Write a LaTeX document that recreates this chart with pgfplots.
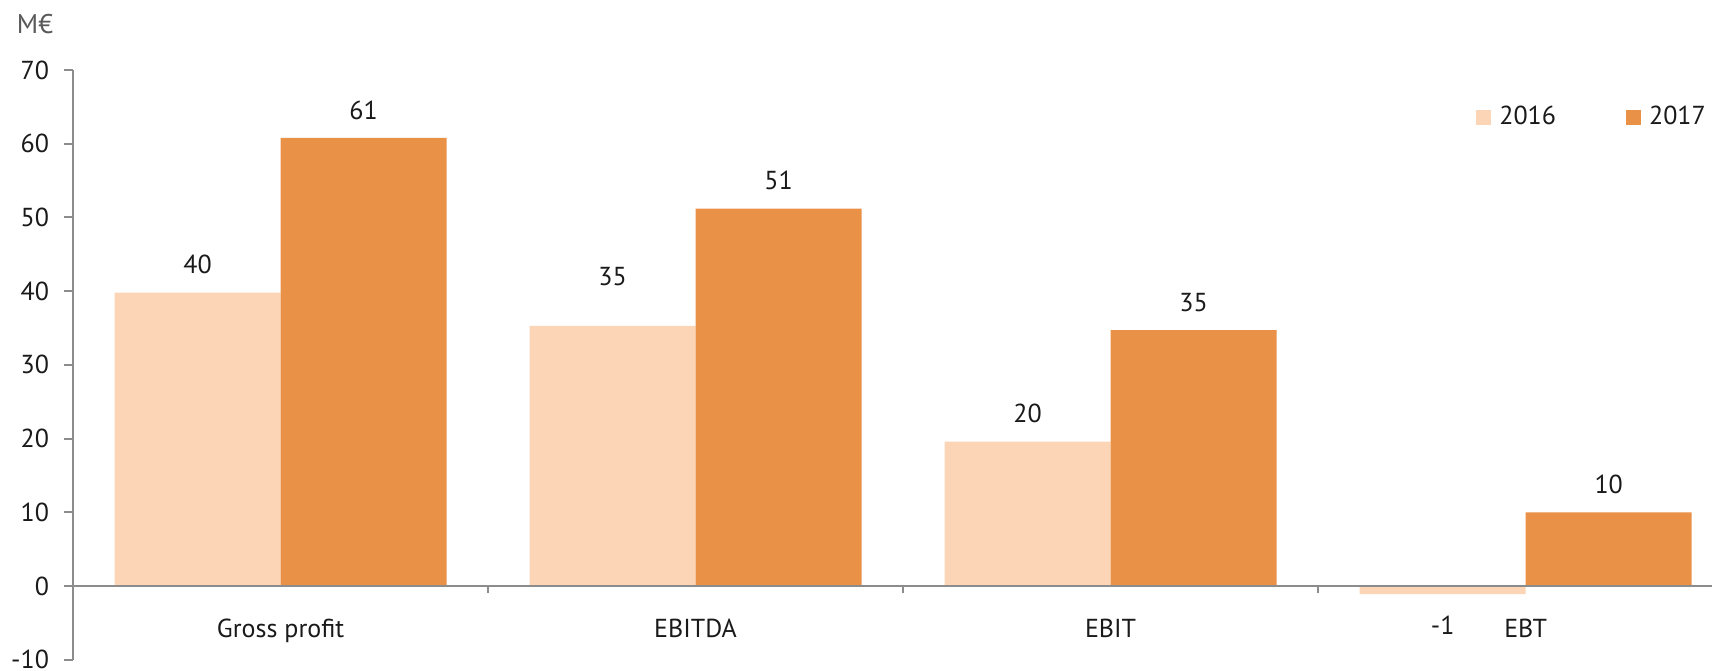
\documentclass[border=0pt]{standalone}
\usepackage{pgfplots}
\pgfplotsset{compat=1.18}
\usepackage{pgfplotstable}
\usepackage{fontspec}
\setmainfont{PT Sans}
\definecolor{light}{HTML}{FBD5B5}
\definecolor{dark}{HTML}{EA9148}
\definecolor{axgray}{HTML}{8C8C8C}
\definecolor{txt}{HTML}{1A1A1A}
\definecolor{mgray}{HTML}{595959}

\pgfplotstableread{
x y lab off
0 39.8 40 9
1 35.3 35 19.75
2 19.6 20 9
3 -1.1 -1 -20.35
}\dataA
\pgfplotstableread{
x y lab off
0 60.8 61 9
1 51.2 51 9
2 34.7 35 9
3 10.0 10 9
}\dataB

\begin{document}
\begin{tikzpicture}
\begin{axis}[
  scale only axis, width=819.5pt, height=294.85pt,
  xmin=-0.5, xmax=3.449, ymin=-10, ymax=70,
  axis on top, clip=false,
  axis y line*=left, axis x line*=middle,
  axis line style={axgray, line width=1pt},
  ytick={-10,0,...,70},
  xtick={0,1,2,3},
  xticklabels={Gross profit, EBITDA, EBIT, EBT},
  minor xtick={0.5,1.5,2.5},
  tick align=outside,
  major x tick style={draw=none},
  minor x tick style={axgray, line width=1pt},
  y tick style={axgray, line width=1pt},
  major tick length=4.5pt, minor tick length=3.5pt,
  font=\fontsize{13}{16}\selectfont,
  ticklabel style={text=txt, font=\fontsize{13}{16}\selectfont},
  /pgf/number format/assume math mode=true,
  yticklabel style={xshift=-4pt},
  xticklabel style={yshift=-8.5pt},
  ybar, bar width=0.4,
  nodes near coords, point meta=explicit symbolic,
  visualization depends on={\thisrow{off} \as \myoff},
  every node near coord/.append style={text=txt, inner sep=0pt, anchor=south, yshift=\myoff pt, font=\fontsize{13}{16}\selectfont},
  legend columns=2,
  legend style={at={(0.856,0.92)}, anchor=west, draw=none, fill=none, inner sep=0pt,
    /tikz/every odd column/.append style={column sep=4pt},
    /tikz/every even column/.append style={column sep=35pt},
    nodes={inner sep=0pt, text=txt, font=\fontsize{13}{16}\selectfont}},
  legend image code/.code={\fill[#1] (0pt,-3.75pt) rectangle (7.5pt,3.75pt);},
]
\addplot[fill=light, draw=none, bar shift=-0.2] table[x=x,y=y,meta=lab]{\dataA};
\addlegendentry{2016}
\addplot[fill=dark, draw=none, bar shift=0.2] table[x=x,y=y,meta=lab]{\dataB};
\addlegendentry{2017}
\coordinate (bl) at (rel axis cs:0,0);
\coordinate (tr) at (rel axis cs:1,1);
\node[text=mgray, font=\fontsize{13.5}{16}\selectfont, anchor=center] at ([xshift=-19pt,yshift=23pt]rel axis cs:0,1) {M€};
\end{axis}
\pgfresetboundingbox
\path ([xshift=-36.5pt,yshift=-5.15pt]bl) rectangle ([yshift=35pt]tr);
\end{tikzpicture}
\end{document}
